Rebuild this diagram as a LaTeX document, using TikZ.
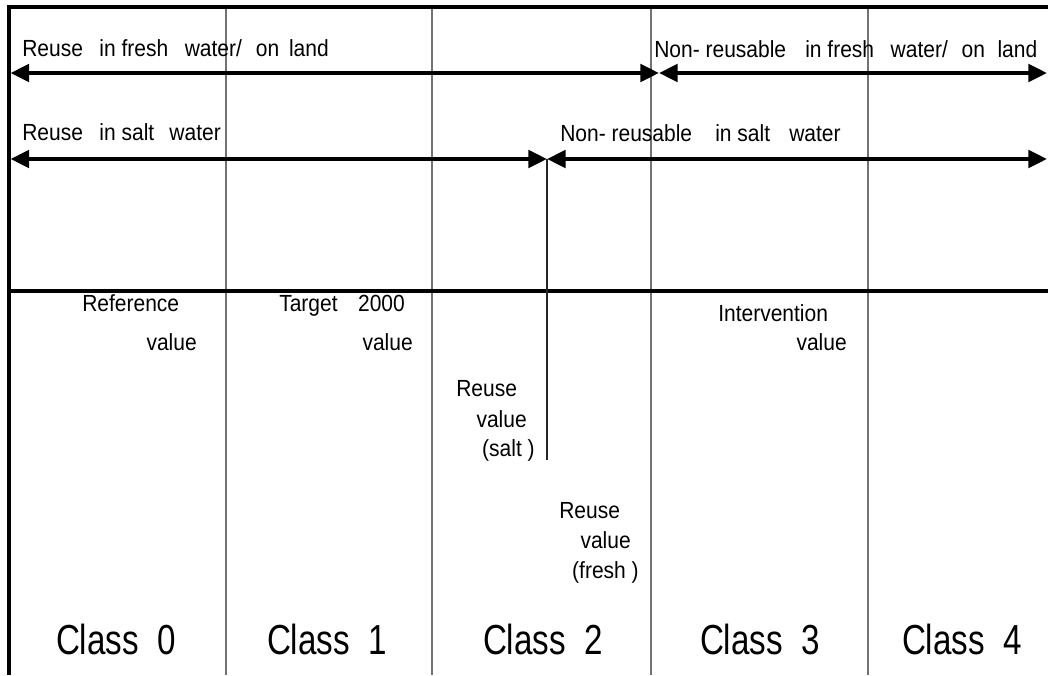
\documentclass[tikz,border=0pt]{standalone}
\usepackage{fontspec}
\setmainfont{Liberation Sans}
\newfontfamily\lblfont[FakeStretch=0.9]{Liberation Sans}
\newfontfamily\clsfont[FakeStretch=0.79]{Liberation Sans}
\usetikzlibrary{arrows.meta}
\newcommand{\gp}[1]{\hspace{#1pt}}
\begin{document}
\begin{tikzpicture}[x=0.75pt,y=-0.75pt,
  frame/.style={line width=3pt},
  divider/.style={line width=0.9pt, draw=black!55},
  saltline/.style={line width=1.2pt, draw=black!85},
  arr/.style={line width=3pt, {Triangle[length=14pt,width=13pt]}-{Triangle[length=14pt,width=13pt]}},
  lbl/.style={inner sep=0pt, font=\lblfont\fontsize{17.5}{20}\selectfont},
  cls/.style={inner sep=0pt, anchor=base, font=\clsfont\fontsize{31.5}{36}\selectfont}]

\useasboundingbox (0,0) rectangle (1048,675);

% dividers
\foreach \x in {226,432,651,868} \draw[divider] (\x,7) -- (\x,675);

% frame
\draw[frame] (9,675) -- (9,7) -- (1048,7);
\draw[frame] (9,290.5) -- (1048,290.5);

% arrow end points
\coordinate (L1) at (10.5,73);
\coordinate (M1) at (659,73);
\coordinate (R1) at (1047,73);
\coordinate (L2) at (10.5,159);
\coordinate (M2) at (547,159);
\coordinate (R2) at (1047,159);
\coordinate (S) at (547,460);

\draw[saltline] (M2) -- (S);
\draw[arr] (L1) -- (M1);
\draw[arr] (M1) -- (R1);
\draw[arr] (L2) -- (M2);
\draw[arr] (M2) -- (R2);

% top labels
\node[lbl, anchor=base west] (t1) at (22,56) {Reuse\gp{8} in fresh\gp{8} water/\gp{6} on\gp{3} land};
\node[lbl, anchor=base west] (t2) at (22,140) {Reuse\gp{8} in salt\gp{7} water};
\node[lbl, anchor=base west] (t3) at (654,57) {Non- reusable\gp{10} in fresh\gp{8} water/\gp{6} on\gp{5} land};
\node[lbl, anchor=base west] (t4) at (560,141) {Non- reusable\gp{13} in salt\gp{10} water};

% value labels
\node[lbl, anchor=base west] (ref1) at (82,311) {Reference};
\node[lbl, anchor=base east] (ref2) at (197,350) {value};
\node[lbl, anchor=base west] (tar1) at (279,311) {Target\gp{11} 2000};
\node[lbl, anchor=base east] (tar2) at (413,350) {value};
\node[lbl, anchor=base west] (int1) at (718,321) {Intervention};
\node[lbl, anchor=base east] (int2) at (847,350) {value};

\node[lbl, anchor=base west] (rs1) at (456,396) {Reuse};
\node[lbl, anchor=base east] (rs2) at (527,427) {value};
\node[lbl, anchor=base east] (rs3) at (535,456) {(salt )};

\node[lbl, anchor=base west] (rf1) at (559,518) {Reuse};
\node[lbl, anchor=base east] (rf2) at (631,548) {value};
\node[lbl, anchor=base east] (rf3) at (639,578) {(fresh )};

% class labels
\node[cls] (c0) at (116,654) {Class\gp{7} 0};
\node[cls] (c1) at (327,654) {Class\gp{7} 1};
\node[cls] (c2) at (543,654) {Class\gp{7} 2};
\node[cls] (c3) at (760,654) {Class\gp{7} 3};
\node[cls] (c4) at (962,654) {Class\gp{7} 4};
\end{tikzpicture}
\end{document}
